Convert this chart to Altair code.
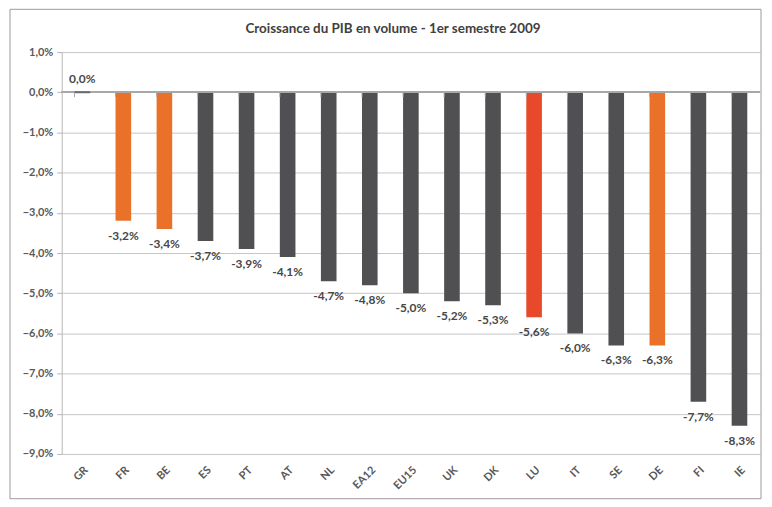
import altair as alt
import pandas as pd

TITLE = "Croissance du PIB en volume - 1er semestre 2009"
countries = ["GR", "FR", "BE", "ES", "PT", "AT", "NL", "EA12", "EU15", "UK", "DK", "LU", "IT", "SE", "DE", "FI", "IE"]
values = [0.0, -3.2, -3.4, -3.7, -3.9, -4.1, -4.7, -4.8, -5.0, -5.2, -5.3, -5.6, -6.0, -6.3, -6.3, -7.7, -8.3]
groups = ["g", "o", "o", "g", "g", "g", "g", "g", "g", "g", "g", "r", "g", "g", "o", "g", "g"]

GRAY = "#505052"
ORANGE = "#E9712A"
RED = "#E8492A"
FONT = "Lato"

df = pd.DataFrame({"pays": countries, "val": values, "grp": groups})
df["lab"] = [(f"{v:.1f}".replace(".", ",") + "%") for v in values]

xs = alt.X("pays:N", sort=countries,
           scale=alt.Scale(paddingInner=0.62, paddingOuter=0.31),
           axis=alt.Axis(title=None, labelAngle=-45, labelFontSize=11, labelColor="#595959",
                         labelFont=FONT, labelFontWeight="bold", domain=False, ticks=False,
                         labelPadding=10, grid=False))
ys = alt.Y("val:Q", scale=alt.Scale(domain=[-9, 1], nice=False),
           axis=alt.Axis(title=None, values=list(range(-9, 2)), grid=True, gridColor="#c6c6c6",
                         domainColor="#b5b5b5", tickColor="#b5b5b5", tickSize=5,
                         labelFontSize=11, labelColor="#595959", labelFont=FONT, labelFontWeight="bold",
                         labelPadding=4,
                         labelExpr="replace(format(datum.value, '.1f'), '.', ',') + '%'"))

color = alt.Color("grp:N", scale=alt.Scale(domain=["g", "o", "r"], range=[GRAY, ORANGE, RED]), legend=None)

base = alt.Chart(df)
bars = base.mark_bar(stroke=None).encode(x=xs, y=ys, y2=alt.datum(0), color=color)
zero = base.mark_rule(color="#a8a8a8", strokeWidth=1.2).encode(y=alt.datum(0))
gr = base.transform_filter("datum.val == 0").mark_tick(
    color=GRAY, orient="horizontal", size=16, thickness=2
).encode(x=alt.X("pays:N", sort=countries), y="val:Q")
neg_lab = base.transform_filter("datum.val < 0").mark_text(
    dy=15, fontSize=12, fontWeight="bold", color="#474747", font=FONT
).encode(x=alt.X("pays:N", sort=countries), y="val:Q", text="lab:N")
pos_lab = base.transform_filter("datum.val >= 0").mark_text(
    dy=-13, fontSize=12, fontWeight="bold", color="#474747", font=FONT
).encode(x=alt.X("pays:N", sort=countries), y="val:Q", text="lab:N")
ticks = base.mark_rule(color="#a8a8a8", strokeWidth=1).encode(
    x=alt.X("pays:N", sort=countries, bandPosition=0), y=alt.datum(0), y2=alt.datum(-0.12))
one = alt.Chart(pd.DataFrame({"t": [TITLE]}))
frame = one.mark_rect(fill=None, stroke="#9a9a9a", strokeWidth=1).encode(
    x=alt.value(-52), x2=alt.value(703), y=alt.value(-43), y2=alt.value(449))
title = one.mark_text(fontSize=13.5, font=FONT, fontWeight="bold", color="#404040",
                      align="center", baseline="middle").encode(
    x=alt.value(333), y=alt.value(-23), text="t:N")

chart = alt.layer(frame, title, bars, zero, gr, ticks, neg_lab, pos_lab).properties(
    width=702, height=404,
    autosize=alt.AutoSizeParams(type="none"),
    padding={"left": 54, "top": 43, "right": 4, "bottom": 50},
).configure_view(stroke=None)

chart.save("out.html", embed_options={"renderer": "svg", "actions": False})
